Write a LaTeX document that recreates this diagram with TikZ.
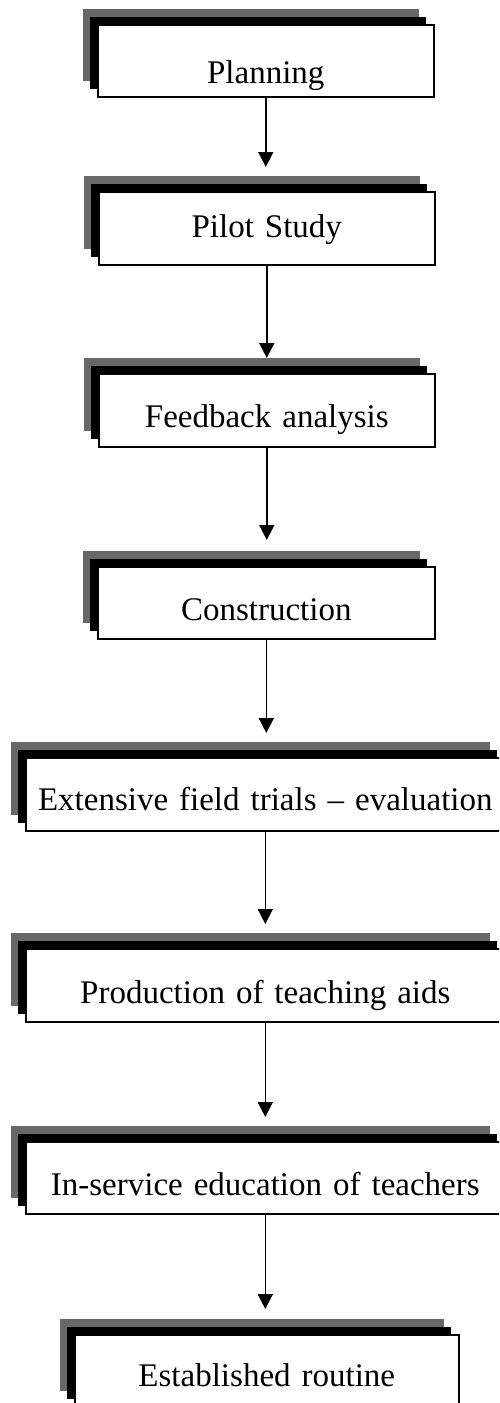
\documentclass[tikz,border=0pt]{standalone}
\usepackage{fontspec}
\setmainfont{Liberation Serif}
\usetikzlibrary{arrows.meta,shadows}
\definecolor{shgray}{RGB}{104,104,104}
\tikzset{
  stepbox/.style={draw=black, line width=1.6pt, fill=white, inner sep=0pt, align=center,
    anchor=north west, font=\fontsize{33}{40}\selectfont,
    general shadow={draw=none, fill=shgray, shadow xshift=-15pt, shadow yshift=16pt},
    general shadow={draw=none, fill=black, shadow xshift=-8pt, shadow yshift=8pt}},
  flow/.style={line width=1.6pt, -{Triangle[width=15pt,length=15pt]}}
}
\begin{document}
\begin{tikzpicture}[x=1pt,y=-1pt]
\useasboundingbox (0,0) rectangle (499,1403);
\clip (0,0) rectangle (499,1403);
\node[stepbox, text width=336pt, text height=59pt, text depth=13pt] (b1) at (97,24) {Planning};
\node[stepbox, text width=336pt, text height=46pt, text depth=27pt] (b2) at (98,191) {Pilot Study};
\node[stepbox, text width=336pt, text height=54pt, text depth=19pt] (b3) at (98,373) {Feedback analysis};
\node[stepbox, text width=337pt, text height=54pt, text depth=18pt] (b4) at (97,566) {Construction};
\node[stepbox, text width=479pt, text height=53pt, text depth=20pt] (b5) at (25,757) {Extensive field trials -- evaluation};
\node[stepbox, text width=479pt, text height=55pt, text depth=18pt] (b6) at (25,948) {Production of teaching aids};
\node[stepbox, text width=479pt, text height=54pt, text depth=18pt] (b7) at (25,1141) {In-service education of teachers};
\node[stepbox, text width=384pt, text height=52pt, text depth=20pt] (b8) at (74,1334) {Established routine};
\draw[flow, shorten >=24pt] (b1.south) -- (b1.south |- b2.north);
\draw[flow, shorten >=15pt] (b2.south) -- (b2.south |- b3.north);
\draw[flow, shorten >=26pt] (b3.south) -- (b3.south |- b4.north);
\draw[flow, shorten >=24pt] (b4.south) -- (b4.south |- b5.north);
\draw[flow, shorten >=24pt] (b5.south) -- (b5.south |- b6.north);
\draw[flow, shorten >=24pt] (b6.south) -- (b6.south |- b7.north);
\draw[flow, shorten >=25pt] (b7.south) -- (b7.south |- b8.north);
\end{tikzpicture}
\end{document}
